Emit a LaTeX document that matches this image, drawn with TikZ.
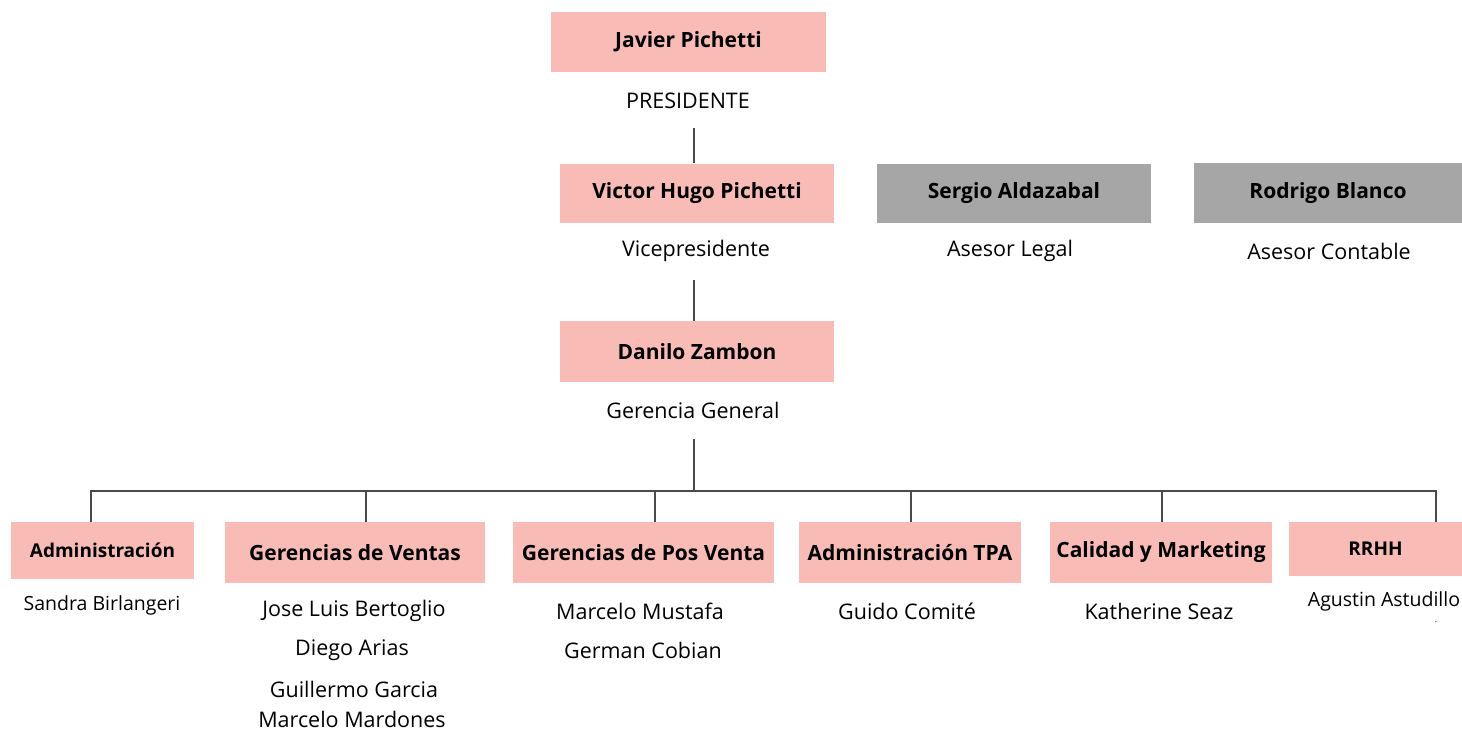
\documentclass[tikz,border=0pt]{standalone}
\usepackage{fontspec}
\setmainfont{Open Sans}
\begin{document}
\begin{tikzpicture}[x=1pt,y=-1pt,
  pinkbox/.style={fill=boxpink,draw=none,inner sep=0pt,anchor=center,font=\fontsize{21}{22}\selectfont\bfseries},
  graybox/.style={fill=boxgray,draw=none,inner sep=0pt,anchor=center,font=\fontsize{21}{22}\selectfont\bfseries},
  role/.style={inner sep=0pt,anchor=center,font=\fontsize{21.5}{22}\selectfont},
  smallrole/.style={inner sep=0pt,anchor=center,font=\fontsize{19.5}{20}\selectfont},
  link/.style={draw=linegray,line width=1.5pt}]
\definecolor{boxpink}{HTML}{F9BBB5}
\definecolor{boxgray}{HTML}{A6A6A6}
\definecolor{linegray}{HTML}{4A4A4A}
\useasboundingbox (0,0) rectangle (1462,732);
% top
\node[pinkbox,minimum width=275pt,minimum height=60pt] (javier) at (688.5,42) {Javier Pichetti};
\node[role] (pres) at (688,101) {PRESIDENTE};
\node[pinkbox,minimum width=274pt,minimum height=59pt] (victor) at (697,193) {Victor Hugo Pichetti};
\node[role] (vice) at (696,251) {Vicepresidente};
\node[graybox,minimum width=274pt,minimum height=59pt] (sergio) at (1014,193.5) {Sergio Aldazabal};
\node[role] (legal) at (1010,251) {Asesor Legal};
\node[graybox,minimum width=268pt,minimum height=60pt] (rodrigo) at (1328,193) {Rodrigo Blanco};
\node[role] (contable) at (1329,251) {Asesor Contable};
\node[pinkbox,minimum width=274pt,minimum height=61pt] (danilo) at (697,351.5) {Danilo Zambon};
\node[role] (gg) at (693,410) {Gerencia General};
% departments
\node[pinkbox,minimum width=183pt,minimum height=57pt,font=\fontsize{19}{20}\selectfont\bfseries] (adm) at (102.5,550.5) {Administración};
\node[smallrole] (sandra) at (102,605) {Sandra Birlangeri};
\node[pinkbox,minimum width=260pt,minimum height=61pt] (ventas) at (355,552.5) {Gerencias de Ventas};
\node[role] (jose) at (354,611) {Jose Luis Bertoglio};
\node[role] (diego) at (352,650) {Diego Arias};
\node[role] (guillermo) at (354,689) {Guillermo Garcia};
\node[role] (mardones) at (352,719) {Marcelo Mardones};
\node[pinkbox,minimum width=261pt,minimum height=61pt] (posventa) at (643.5,552.5) {Gerencias de Pos Venta};
\node[role] (mustafa) at (640,611) {Marcelo Mustafa};
\node[role] (cobian) at (643,650) {German Cobian};
\node[pinkbox,minimum width=222pt,minimum height=61pt] (tpa) at (910,552.5) {Administración TPA};
\node[role] (guido) at (907,611) {Guido Comité};
\node[pinkbox,minimum width=222pt,minimum height=61pt] (calidad) at (1161,552.5) {Calidad y Marketing};
\node[role] (katherine) at (1159,611) {Katherine Seaz};
\node[pinkbox,minimum width=173pt,minimum height=54pt,font=\fontsize{19}{20}\selectfont\bfseries] (rrhh) at (1375.5,549) {RRHH};
\node[smallrole] (agustin) at (1384,601) {Agustin Astudillo};
\node[inner sep=0pt,font=\fontsize{8}{8}\selectfont] (dot) at (1436,622) {.};
% connectors
\coordinate (c1) at (694,128);
\coordinate (c2) at (694,280);
\coordinate (c3) at (694,439);
\coordinate (bus) at (694,491);
\coordinate (busL) at (91,491);
\coordinate (busR) at (1436,491);
\draw[link] (c1) -- (c1 |- victor.north);
\draw[link] (c2) -- (c2 |- danilo.north);
\draw[link] (c3) -- (bus);
\draw[link] (busL |- adm.north) -- (busL) -- (busR) -- (busR |- rrhh.north);
\coordinate (dv) at (366,491);
\coordinate (dp) at (655,491);
\coordinate (dt) at (911,491);
\coordinate (dc) at (1162,491);
\draw[link] (dv) -- (dv |- ventas.north);
\draw[link] (dp) -- (dp |- posventa.north);
\draw[link] (dt) -- (dt |- tpa.north);
\draw[link] (dc) -- (dc |- calidad.north);
\end{tikzpicture}
\end{document}
